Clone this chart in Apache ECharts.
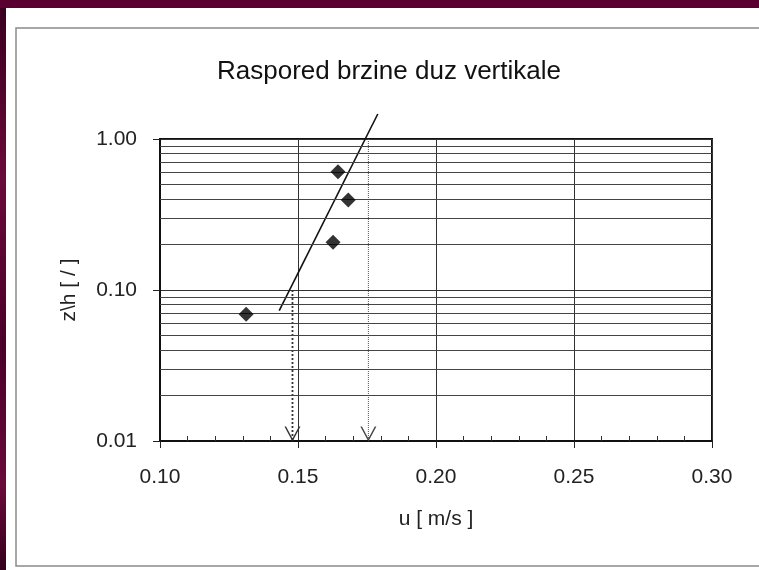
<!DOCTYPE html>
<html>
<head>
<meta charset="utf-8">
<script src="https://cdn.jsdelivr.net/npm/echarts@6/dist/echarts.min.js"></script>
<style>
  html, body { margin: 0; padding: 0; background: #5a0030; }
  #chart { width: 759px; height: 570px; }
</style>
</head>
<body>
<div id="chart"></div>
<script>
// izmjerene tocke (u, z/h)
var pointsU = [0.1312, 0.1627, 0.1645, 0.1682];
var pointsZ = [0.069, 0.207, 0.607, 0.394];
// pravac regresije
var trendU = [0.1432, 0.1789];
var trendZ = [0.0729, 1.464];
// strelice za ocitavanje
var arrowDotU = [0.148, 0.148];
var arrowDotZ = [0.1, 0.01];
var arrowTopU = [0.1755, 0.1755];
var arrowTopZ = [1.0, 0.01];
// pomocne linije mreze (log)
var minorGrid = [0.02, 0.03, 0.04, 0.05, 0.06, 0.07, 0.08, 0.09,
                 0.2, 0.3, 0.4, 0.5, 0.6, 0.7, 0.8, 0.9];

var font = '"Liberation Sans", Arial, sans-serif';
var vArrow = 'path://M0,0 L10,20 L20,0 L18,0 L10,16 L2,0 Z';

function pairs(xs, ys) {
    return xs.map(function (x, i) { return [x, ys[i]]; });
}

function arrowData(xs, ys) {
    return [
        {value: [xs[0], ys[0]], symbol: 'none'},
        {value: [xs[1], ys[1]], symbol: vArrow, symbolSize: [16, 15], symbolOffset: [0, -7]}
    ];
}

var myChart = echarts.init(document.getElementById('chart'));

myChart.setOption({
    backgroundColor: '#5a0030',
    animation: false,
    graphic: [
        {type: 'rect', shape: {x: 0, y: 8, width: 6, height: 562},
         style: {fill: new echarts.graphic.LinearGradient(0, 0, 0, 1, [
             {offset: 0, color: '#3a0020'}, {offset: 0.3, color: '#6a0a3a'},
             {offset: 0.6, color: '#4a0028'}, {offset: 0.85, color: '#6a0a3a'},
             {offset: 1, color: '#35001c'}])}, z: -10},
        {type: 'rect', shape: {x: 6, y: 8, width: 753, height: 562},
         style: {fill: '#ffffff'}, z: -10},
        {type: 'rect', shape: {x: 16, y: 28, width: 760, height: 538},
         style: {fill: 'none', stroke: '#8a8a8a', lineWidth: 1.5}, z: -9}
    ],
    title: {
        text: 'Raspored brzine duz vertikale',
        left: 212,
        top: 54,
        textStyle: {fontFamily: font, fontSize: 26, fontWeight: 'normal', color: '#111'}
    },
    grid: {
        left: 160, top: 139, width: 552, height: 302,
        show: true, borderColor: '#111', borderWidth: 2, backgroundColor: 'transparent'
    },
    xAxis: [{
        type: 'value',
        min: 0.10, max: 0.30, interval: 0.05,
        name: 'u [ m/s ]',
        nameLocation: 'middle',
        nameGap: 68,
        nameTextStyle: {fontFamily: font, fontSize: 21, color: '#222'},
        axisLine: {show: true, lineStyle: {color: '#111', width: 2}},
        axisTick: {show: true, length: 7, lineStyle: {color: '#222', width: 1}},
        axisLabel: {margin: 26, fontFamily: font, fontSize: 21, color: '#222',
                    formatter: function (v) { return v.toFixed(2); }},
        splitLine: {show: true, lineStyle: {color: '#333', width: 1}}
    }, {
        type: 'value',
        min: 0.10, max: 0.30, interval: 0.05,
        position: 'bottom',
        axisLine: {show: false},
        axisTick: {show: false, inside: true},
        minorTick: {show: true, splitNumber: 5, length: 5, lineStyle: {color: '#333', width: 1}},
        axisLabel: {show: false},
        splitLine: {show: false}
    }],
    yAxis: {
        type: 'log',
        logBase: 10,
        min: 0.01, max: 1,
        name: 'z\\h [ / ]',
        nameLocation: 'middle',
        nameGap: 80,
        nameTextStyle: {fontFamily: font, fontSize: 21, color: '#222'},
        axisLine: {show: true, lineStyle: {color: '#111', width: 2}},
        axisTick: {show: true, length: 7, lineStyle: {color: '#222', width: 1}},
        axisLabel: {margin: 23, fontFamily: font, fontSize: 21, color: '#222',
                    formatter: function (v) { return v.toFixed(2); }},
        splitLine: {show: true, lineStyle: {color: '#333', width: 1}}
    },
    series: [
        {
            type: 'scatter',
            name: 'mreza',
            data: [],
            silent: true,
            markLine: {
                silent: true,
                symbol: 'none',
                animation: false,
                label: {show: false},
                lineStyle: {color: '#444', width: 1, type: 'solid'},
                data: minorGrid.map(function (v) { return {yAxis: v}; })
            }
        },
        {
            type: 'line',
            name: 'pravac',
            data: pairs(trendU, trendZ),
            clip: false,
            showSymbol: false,
            lineStyle: {color: '#111', width: 1.6},
            z: 4
        },
        {
            type: 'line',
            name: 'strelica1',
            data: arrowData(arrowDotU, arrowDotZ),
            clip: false,
            itemStyle: {color: '#333'},
            lineStyle: {color: '#333', width: 1.8, type: [2, 2]},
            z: 3
        },
        {
            type: 'line',
            name: 'strelica2',
            data: arrowData(arrowTopU, arrowTopZ),
            clip: false,
            itemStyle: {color: '#444'},
            lineStyle: {color: '#555', width: 1, type: [1, 1]},
            z: 3
        },
        {
            type: 'scatter',
            name: 'tocke',
            data: pairs(pointsU, pointsZ),
            symbol: 'diamond',
            symbolSize: 15,
            itemStyle: {color: '#000'},
            z: 5
        }
    ]
});
</script>
</body>
</html>
